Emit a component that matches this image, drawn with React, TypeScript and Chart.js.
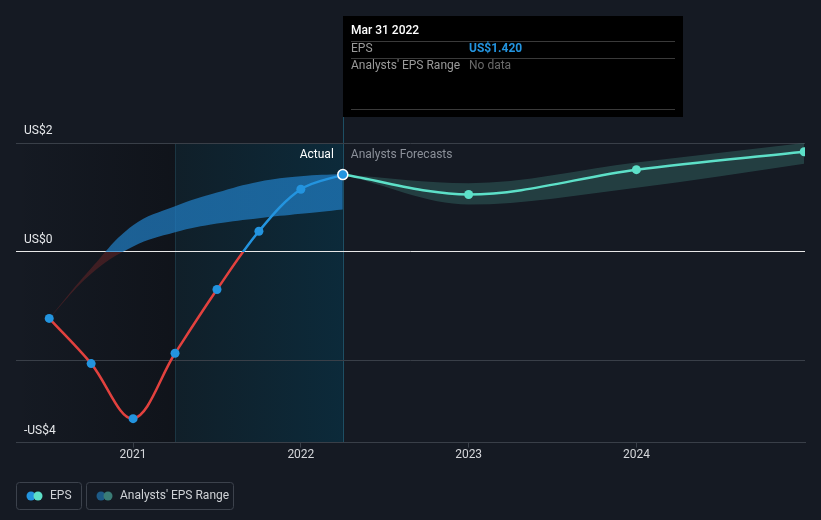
import React, { useEffect, useRef } from 'react';
import { Chart, registerables } from 'chart.js';

Chart.register(...registerables);

// ---- data ----
const pastDates = [2020.5, 2020.75, 2021.0, 2021.25, 2021.5, 2021.75, 2022.0, 2022.25];
const pastEps = [-1.22, -2.05, -3.06, -1.86, -0.69, 0.38, 1.15, 1.42];
const pastRangeHigh = [-1.22, -0.3, 0.49, 0.84, 1.09, 1.29, 1.39, 1.43];
const pastRangeLow = [-1.22, -0.4, 0.1, 0.36, 0.52, 0.62, 0.7, 0.78];
const forecastDates = [2022.25, 2023, 2024, 2025];
const forecastEps = [1.42, 1.055, 1.51, 1.84];
const forecastHigh = [1.42, 1.26, 1.64, 2.0];
const forecastLow = [1.42, 0.87, 1.18, 1.62];
const yTicks = [-3.5, -2, 0, 2];
const yTickLabels = ['-US$4', '', 'US$0', 'US$2'];
const xTicks = [2021, 2022, 2023, 2024];
const tooltipDate = 'Mar 31 2022';
const shadeStart = 2021.25;

const BG = '#151a23';
const BLUE = '#2394df';
const RED = '#e2413e';
const TEAL = '#5de0c8';
const GRID = '#393f48';

const pts = (xs: number[], ys: number[]) => xs.map((x, i) => ({ x, y: ys[i] }));

function zeroGradient(ctx: any, above: string, below: string, fallback: string) {
  const chart = ctx.chart;
  const area = chart.chartArea;
  if (!area) return fallback;
  const y0 = chart.scales.y.getPixelForValue(0);
  const t = Math.min(1, Math.max(0, (y0 - area.top) / (area.bottom - area.top)));
  const g = chart.ctx.createLinearGradient(0, area.top, 0, area.bottom);
  g.addColorStop(0, above);
  g.addColorStop(t, above);
  g.addColorStop(t, below);
  g.addColorStop(1, below);
  return g;
}

const decorPlugin = {
  id: 'decor',
  beforeDraw(chart: any) {
    const { ctx, chartArea, scales } = chart;
    const x = scales.x;
    ctx.save();
    ctx.fillStyle = BG;
    ctx.fillRect(0, 0, chart.width, chart.height);
    const xs = x.getPixelForValue(shadeStart);
    const xa = x.getPixelForValue(pastDates[pastDates.length - 1]);
    const g1 = ctx.createLinearGradient(chartArea.left, 0, xs, 0);
    g1.addColorStop(0, 'rgba(8,10,14,0.0)');
    g1.addColorStop(1, 'rgba(8,10,14,0.4)');
    ctx.fillStyle = g1;
    ctx.fillRect(chartArea.left, chartArea.top, xs - chartArea.left, chartArea.bottom - chartArea.top);
    const g2 = ctx.createLinearGradient(xs, 0, xa, 0);
    g2.addColorStop(0, '#101f29');
    g2.addColorStop(1, '#0c2a3a');
    ctx.fillStyle = g2;
    ctx.fillRect(xs, chartArea.top, xa - xs, chartArea.bottom - chartArea.top);
    ctx.strokeStyle = '#1b3542';
    ctx.lineWidth = 1;
    ctx.beginPath();
    ctx.moveTo(Math.round(xs) + 0.5, chartArea.top);
    ctx.lineTo(Math.round(xs) + 0.5, chartArea.bottom);
    ctx.stroke();
    ctx.strokeStyle = '#1d4f64';
    ctx.beginPath();
    ctx.moveTo(Math.round(xa) + 0.5, 117);
    ctx.lineTo(Math.round(xa) + 0.5, chartArea.bottom);
    ctx.stroke();
    ctx.restore();
  },
  afterDraw(chart: any) {
    const { ctx, chartArea, scales } = chart;
    const xa = scales.x.getPixelForValue(pastDates[pastDates.length - 1]);
    ctx.save();
    ctx.font = '12px Roboto';
    ctx.textBaseline = 'middle';
    ctx.textAlign = 'right';
    ctx.fillStyle = '#ffffff';
    ctx.fillText('Actual', xa - 9, chartArea.top + 12);
    ctx.textAlign = 'left';
    ctx.fillStyle = '#8b9099';
    ctx.fillText('Analysts Forecasts', xa + 8, chartArea.top + 12);

    // tooltip
    const tl = Math.round(xa);
    const tw = 340;
    ctx.fillStyle = '#000000';
    ctx.fillRect(tl, 16, tw, 101);
    ctx.fillStyle = '#ffffff';
    ctx.font = '500 12px Roboto';
    ctx.fillText(tooltipDate, tl + 8, 31);
    ctx.strokeStyle = '#3a3a3a';
    ctx.lineWidth = 1;
    [41.5, 58.5, 109.5].forEach((yy) => {
      ctx.beginPath();
      ctx.moveTo(tl + 8, yy);
      ctx.lineTo(tl + tw - 8, yy);
      ctx.stroke();
    });
    ctx.font = '12px Roboto';
    ctx.fillStyle = '#9a9a9a';
    ctx.fillText('EPS', tl + 8, 49);
    ctx.fillText("Analysts' EPS Range", tl + 8, 66);
    ctx.fillStyle = BLUE;
    ctx.font = 'bold 12px Roboto';
    ctx.fillText('US$' + pastEps[pastEps.length - 1].toFixed(3), tl + 126, 49);
    ctx.fillStyle = '#6a6a6a';
    ctx.font = '12px Roboto';
    ctx.fillText('No data', tl + 126, 66);

    // legend
    const drawBox = (x: number, w: number) => {
      ctx.strokeStyle = '#3c424c';
      ctx.lineWidth = 1;
      ctx.beginPath();
      (ctx as any).roundRect(x + 0.5, 482.5, w, 27, 3);
      ctx.stroke();
    };
    const dot = (x: number, c: string) => {
      ctx.fillStyle = c;
      ctx.beginPath();
      ctx.arc(x, 496, 4.5, 0, Math.PI * 2);
      ctx.fill();
    };
    drawBox(16, 65);
    dot(31, BLUE);
    dot(38, TEAL);
    ctx.fillStyle = '#cfd2d6';
    ctx.font = '12px Roboto';
    ctx.fillText('EPS', 50, 496);
    drawBox(86, 147);
    dot(101, '#1d5a86');
    dot(108, '#3a7c76');
    ctx.fillStyle = '#cfd2d6';
    ctx.fillText("Analysts' EPS Range", 120, 496);
    ctx.restore();
  },
};

export default function App() {
  const ref = useRef<HTMLCanvasElement>(null);
  useEffect(() => {
    document.body.style.margin = '0';
    document.body.style.background = BG;
    Chart.defaults.font.family = 'Roboto';
    const n = pastEps.length;
    const chart = new Chart(ref.current as HTMLCanvasElement, {
      type: 'line',
      data: {
        datasets: [
          {
            data: pts(pastDates, pastEps),
            borderColor: (c: any) => zeroGradient(c, BLUE, RED, BLUE),
            borderWidth: 2.5,
            tension: 0.35,
            pointRadius: pastEps.map((_, i) => (i === n - 1 ? 5 : 4.5)),
            pointBackgroundColor: BLUE,
            pointBorderColor: pastEps.map((_, i) => (i === n - 1 ? '#ffffff' : BLUE)),
            pointBorderWidth: pastEps.map((_, i) => (i === n - 1 ? 1.5 : 0)),
            fill: false,
            clip: 0,
          },
          {
            data: pts(forecastDates, forecastEps),
            borderColor: TEAL,
            borderWidth: 2.5,
            cubicInterpolationMode: 'monotone',
            pointRadius: forecastEps.map((_, i) => (i === 0 ? 0 : 4.5)),
            pointBackgroundColor: TEAL,
            pointBorderWidth: 0,
            fill: false,
            clip: 0,
          },
          {
            data: pts(pastDates, pastRangeHigh),
            borderWidth: 0,
            borderColor: 'rgba(0,0,0,0)',
            backgroundColor: (c: any) =>
              zeroGradient(c, 'rgba(32,125,195,0.72)', 'rgba(130,40,40,0.4)', 'rgba(32,125,195,0.72)'),
            pointRadius: 0,
            tension: 0.4,
            fill: '+1',
            clip: 0,
          },
          {
            data: pts(pastDates, pastRangeLow),
            borderWidth: 0,
            borderColor: 'rgba(0,0,0,0)',
            pointRadius: 0,
            tension: 0.4,
            fill: false,
            clip: 0,
          },
          {
            data: pts(forecastDates, forecastHigh),
            borderWidth: 0,
            borderColor: 'rgba(0,0,0,0)',
            backgroundColor: 'rgba(66,140,132,0.32)',
            pointRadius: 0,
            cubicInterpolationMode: 'monotone',
            fill: '+1',
            clip: 0,
          },
          {
            data: pts(forecastDates, forecastLow),
            borderWidth: 0,
            borderColor: 'rgba(0,0,0,0)',
            pointRadius: 0,
            cubicInterpolationMode: 'monotone',
            fill: false,
            clip: 0,
          },
        ],
      },
      options: {
        responsive: false,
        animation: false,
        devicePixelRatio: 1,
        layout: { padding: { left: 0, right: 16, top: 143, bottom: 58 } },
        plugins: { legend: { display: false }, tooltip: { enabled: false } },
        scales: {
          x: {
            type: 'linear',
            min: 2020.302,
            max: 2025.005,
            afterBuildTicks: (s: any) => {
              s.ticks = xTicks.map((v) => ({ value: v }));
            },
            ticks: {
              color: '#d4d6da',
              font: { size: 12 },
              padding: 0,
              maxRotation: 0,
              autoSkip: false,
              callback: (v: any) => String(v),
            },
            grid: { drawOnChartArea: false, drawTicks: true, tickLength: 5, color: GRID },
            border: { display: true, color: GRID },
          },
          y: {
            type: 'linear',
            min: -3.5,
            max: 2,
            afterBuildTicks: (s: any) => {
              s.ticks = yTicks.map((v) => ({ value: v }));
            },
            ticks: {
              mirror: true,
              padding: 8,
              labelOffset: -12,
              color: '#e6e8eb',
              font: { size: 12 },
              callback: (v: any) => {
                const i = yTicks.indexOf(Number(v));
                return i >= 0 ? yTickLabels[i] : '';
              },
            },
            grid: {
              drawTicks: false,
              color: (c: any) => (c.tick && c.tick.value === 0 ? '#e8e8e8' : GRID),
            },
            border: { display: false },
          },
        },
      },
      plugins: [decorPlugin],
    } as any);
    return () => chart.destroy();
  }, []);
  return (
    <div style={{ width: 821, height: 520 }}>
      <canvas ref={ref} width={821} height={520} style={{ display: 'block' }} />
    </div>
  );
}
